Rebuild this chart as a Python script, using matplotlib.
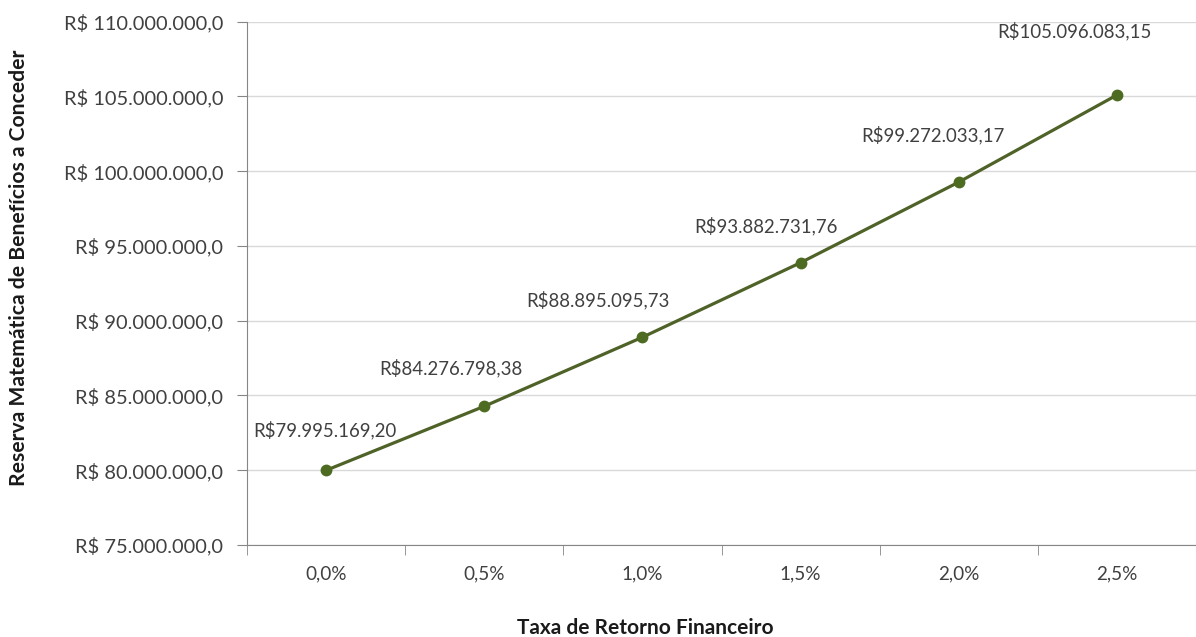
import matplotlib
matplotlib.use("Agg")
import matplotlib.pyplot as plt
from matplotlib.ticker import FuncFormatter, FixedLocator, NullFormatter

plt.rcParams['font.family'] = ['Lato', 'DejaVu Sans']

# taxas de retorno e reserva matemática correspondente
taxas = ['0,0%', '0,5%', '1,0%', '1,5%', '2,0%', '2,5%']
reserva = [79995169.20, 84276798.38, 88895095.73, 93882731.76, 99272033.17, 105096083.15]
rotulos = ['R$79.995.169,20', 'R$84.276.798,38', 'R$88.895.095,73',
           'R$93.882.731,76', 'R$99.272.033,17', 'R$105.096.083,15']

# deslocamento dos rótulos (pixels) em relação aos pontos
desloc = [(-1, 40), (-33, 38), (-44, 37), (-35, 37), (-26, 47), (-42, 64)]

cor_linha = '#4f6228'
cor_eixo = '#868686'


def moeda(v, pos):
    s = f"{v:,.1f}".replace(',', 'X').replace('.', ',').replace('X', '.')
    return 'R$ ' + s


fig = plt.figure(figsize=(11.96, 6.37), dpi=100)
ax = fig.add_axes([247 / 1196, 1 - 545 / 637, 949 / 1196, (545 - 21.7) / 637])

x = list(range(len(taxas)))
ax.plot(x, reserva, color=cor_linha, lw=2.3, marker='o', ms=7.5,
        mfc='#4e6b22', mec='#4e6b22', zorder=3)

for xi, yi, txt, (dx, dy) in zip(x, reserva, rotulos, desloc):
    ax.annotate(txt, (xi, yi), xytext=(dx, dy), textcoords='offset pixels',
                ha='center', va='center', fontsize=13.4, color='#404040')

ax.set_xlim(-0.5, len(taxas) - 0.5)
ax.set_ylim(75e6, 110e6)
ax.set_yticks([75e6 + 5e6 * i for i in range(8)])
ax.yaxis.set_major_formatter(FuncFormatter(moeda))

# rótulos no centro das categorias, marcas entre elas
ax.set_xticks(x)
ax.set_xticklabels(taxas)
ax.xaxis.set_minor_locator(FixedLocator([i - 0.5 for i in range(len(taxas) + 1)]))
ax.xaxis.set_minor_formatter(NullFormatter())
ax.tick_params(axis='x', which='major', length=0, pad=15, labelsize=13.6, labelcolor='#404040')
ax.tick_params(axis='x', which='minor', length=7, color=cor_eixo, direction='out')
ax.tick_params(axis='y', length=7, color=cor_eixo, pad=10, labelsize=14.4, labelcolor='#404040')

ax.grid(axis='y', color='#d9d9d9', lw=1)
ax.set_axisbelow(True)
for lado in ['top', 'right']:
    ax.spines[lado].set_visible(False)
for lado in ['left', 'bottom']:
    ax.spines[lado].set_color(cor_eixo)

fig.text(19 / 1196, 1 - 268 / 637, 'Reserva Matemática de Benefícios a Conceder',
         rotation=90, ha='center', va='center', fontsize=15.2, fontweight='bold', color='#1a1a1a')
fig.text(645 / 1196, 1 - 628 / 637, 'Taxa de Retorno Financeiro',
         ha='center', va='center', fontsize=15, fontweight='bold', color='#1a1a1a')

fig.savefig('out.png', dpi=100)
